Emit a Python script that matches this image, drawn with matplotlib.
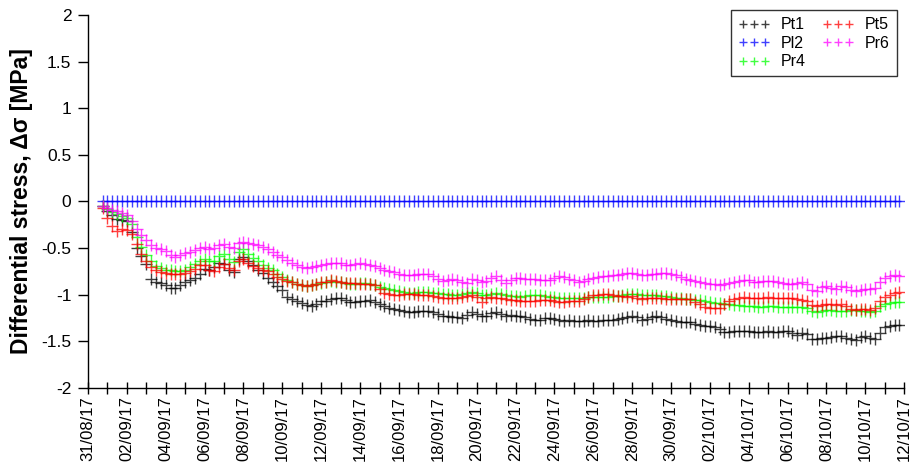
import numpy as np
import pandas as pd
import matplotlib
matplotlib.use("Agg")
import matplotlib.pyplot as plt
import matplotlib.dates as mdates

plt.rcParams["font.family"] = ["Liberation Sans", "DejaVu Sans"]

# readings every 6 h, starting 31/08/17 18:00
START = pd.Timestamp("2017-08-31 18:00")

PT1 = [
    -0.05, -0.10, -0.15, -0.19, -0.20, -0.21, -0.33, -0.50, -0.58, -0.67,
    -0.83, -0.86, -0.87, -0.90, -0.93, -0.93, -0.90, -0.86, -0.84, -0.82,
    -0.78, -0.72, -0.74, -0.70, -0.66, -0.67, -0.74, -0.76, -0.62, -0.59,
    -0.64, -0.68, -0.73, -0.77, -0.82, -0.86, -0.91, -0.95, -1.02, -1.05,
    -1.07, -1.09, -1.11, -1.12, -1.10, -1.07, -1.07, -1.05, -1.03, -1.04,
    -1.06, -1.08, -1.08, -1.07, -1.07, -1.06, -1.08, -1.10, -1.12, -1.14,
    -1.15, -1.16, -1.17, -1.18, -1.18, -1.17, -1.17, -1.17, -1.19, -1.21,
    -1.23, -1.23, -1.24, -1.24, -1.25, -1.22, -1.19, -1.21, -1.23, -1.23,
    -1.20, -1.18, -1.21, -1.23, -1.22, -1.23, -1.23, -1.24, -1.26, -1.27,
    -1.27, -1.25, -1.25, -1.26, -1.27, -1.28, -1.27, -1.28, -1.28, -1.28,
    -1.27, -1.28, -1.28, -1.27, -1.27, -1.27, -1.26, -1.25, -1.24, -1.23,
    -1.24, -1.27, -1.26, -1.24, -1.23, -1.24, -1.26, -1.27, -1.28, -1.29,
    -1.29, -1.29, -1.31, -1.32, -1.33, -1.34, -1.35, -1.37, -1.40, -1.40,
    -1.39, -1.39, -1.39, -1.39, -1.40, -1.40, -1.40, -1.39, -1.40, -1.40,
    -1.39, -1.39, -1.41, -1.43, -1.41, -1.42, -1.47, -1.47, -1.46, -1.46,
    -1.45, -1.44, -1.44, -1.46, -1.48, -1.49, -1.45, -1.44, -1.46, -1.47,
    -1.41, -1.35, -1.33, -1.32, -1.32,
]

PT5 = [
    -0.07, -0.18, -0.26, -0.32, -0.30, -0.31, -0.35, -0.46, -0.56, -0.64,
    -0.70, -0.74, -0.76, -0.77, -0.78, -0.78, -0.78, -0.77, -0.75, -0.72,
    -0.68, -0.68, -0.73, -0.75, -0.70, -0.67, -0.71, -0.73, -0.64, -0.62,
    -0.66, -0.69, -0.71, -0.73, -0.75, -0.78, -0.81, -0.83, -0.85, -0.86,
    -0.88, -0.90, -0.91, -0.90, -0.88, -0.86, -0.86, -0.84, -0.85, -0.86,
    -0.87, -0.87, -0.87, -0.88, -0.88, -0.89, -0.90, -0.94, -0.98, -0.99,
    -1.00, -1.00, -0.99, -0.99, -0.99, -1.00, -1.00, -1.00, -1.01, -1.02,
    -1.04, -1.04, -1.03, -1.03, -1.02, -1.01, -1.00, -1.02, -1.08, -1.04,
    -1.02, -1.03, -1.04, -1.05, -1.06, -1.06, -1.07, -1.07, -1.07, -1.07,
    -1.06, -1.06, -1.06, -1.07, -1.08, -1.08, -1.07, -1.07, -1.07, -1.05,
    -1.02, -1.00, -1.00, -0.99, -0.99, -1.00, -1.01, -1.01, -1.02, -1.01,
    -1.03, -1.05, -1.04, -1.03, -1.03, -1.04, -1.05, -1.05, -1.05, -1.05,
    -1.05, -1.05, -1.08, -1.10, -1.13, -1.14, -1.14, -1.14, -1.10, -1.07,
    -1.05, -1.03, -1.02, -1.03, -1.03, -1.04, -1.03, -1.02, -1.03, -1.03,
    -1.04, -1.04, -1.04, -1.05, -1.06, -1.07, -1.11, -1.12, -1.11, -1.10,
    -1.10, -1.11, -1.10, -1.12, -1.15, -1.16, -1.15, -1.15, -1.16, -1.14,
    -1.07, -1.02, -1.00, -0.98, -0.97,
]

PR4 = [
    -0.05, -0.08, -0.11, -0.13, -0.16, -0.18, -0.24, -0.38, -0.49, -0.57,
    -0.64, -0.69, -0.71, -0.73, -0.74, -0.75, -0.75, -0.73, -0.70, -0.67,
    -0.64, -0.62, -0.64, -0.64, -0.58, -0.56, -0.62, -0.65, -0.54, -0.51,
    -0.56, -0.61, -0.64, -0.68, -0.71, -0.74, -0.78, -0.81, -0.84, -0.86,
    -0.88, -0.90, -0.91, -0.90, -0.88, -0.87, -0.86, -0.85, -0.86, -0.86,
    -0.87, -0.88, -0.89, -0.87, -0.87, -0.89, -0.90, -0.92, -0.93, -0.94,
    -0.95, -0.96, -0.97, -0.98, -0.98, -0.97, -0.97, -0.97, -0.98, -0.98,
    -0.99, -0.99, -1.00, -1.00, -0.99, -0.98, -0.97, -0.98, -1.00, -1.00,
    -0.99, -0.98, -0.99, -1.00, -1.01, -1.01, -1.02, -1.01, -1.00, -1.00,
    -1.00, -1.01, -1.02, -1.02, -1.03, -1.03, -1.03, -1.04, -1.04, -1.03,
    -1.02, -1.02, -1.02, -1.02, -1.02, -1.01, -1.01, -1.00, -0.99, -0.99,
    -0.99, -1.00, -1.00, -1.00, -1.00, -1.01, -1.01, -1.02, -1.03, -1.04,
    -1.05, -1.05, -1.06, -1.06, -1.07, -1.08, -1.09, -1.09, -1.10, -1.10,
    -1.11, -1.11, -1.12, -1.12, -1.12, -1.13, -1.13, -1.12, -1.12, -1.13,
    -1.13, -1.13, -1.13, -1.13, -1.13, -1.14, -1.17, -1.18, -1.17, -1.16,
    -1.16, -1.17, -1.17, -1.17, -1.16, -1.16, -1.17, -1.17, -1.18, -1.17,
    -1.12, -1.10, -1.09, -1.08, -1.08,
]

PR6 = [
    -0.05, -0.07, -0.09, -0.10, -0.12, -0.15, -0.21, -0.30, -0.36, -0.41,
    -0.47, -0.50, -0.51, -0.53, -0.57, -0.59, -0.57, -0.55, -0.54, -0.52,
    -0.50, -0.49, -0.51, -0.50, -0.47, -0.46, -0.49, -0.50, -0.45, -0.43,
    -0.44, -0.46, -0.47, -0.49, -0.51, -0.54, -0.57, -0.59, -0.63, -0.66,
    -0.68, -0.70, -0.71, -0.70, -0.69, -0.68, -0.67, -0.66, -0.66, -0.66,
    -0.68, -0.68, -0.67, -0.66, -0.67, -0.68, -0.69, -0.71, -0.73, -0.75,
    -0.76, -0.78, -0.79, -0.79, -0.79, -0.78, -0.78, -0.78, -0.80, -0.83,
    -0.85, -0.84, -0.83, -0.84, -0.86, -0.87, -0.83, -0.84, -0.86, -0.85,
    -0.82, -0.80, -0.84, -0.87, -0.84, -0.82, -0.82, -0.83, -0.83, -0.83,
    -0.84, -0.84, -0.84, -0.82, -0.80, -0.81, -0.83, -0.84, -0.86, -0.85,
    -0.83, -0.82, -0.81, -0.80, -0.80, -0.79, -0.79, -0.78, -0.77, -0.77,
    -0.78, -0.79, -0.79, -0.78, -0.78, -0.77, -0.77, -0.78, -0.79, -0.81,
    -0.83, -0.84, -0.85, -0.86, -0.87, -0.88, -0.89, -0.90, -0.88, -0.87,
    -0.86, -0.85, -0.84, -0.84, -0.86, -0.86, -0.85, -0.85, -0.85, -0.86,
    -0.87, -0.88, -0.88, -0.87, -0.86, -0.89, -0.95, -0.96, -0.92, -0.91,
    -0.93, -0.94, -0.91, -0.92, -0.95, -0.96, -0.95, -0.94, -0.94, -0.93,
    -0.86, -0.82, -0.80, -0.79, -0.80,
]

PL2 = [0.0] * 165

SERIES = [
    ("Pt1", PT1, "black"),
    ("Pl2", PL2, "#0000ff"),
    ("Pr4", PR4, "#00ff00"),
    ("Pt5", PT5, "#ff0000"),
    ("Pr6", PR6, "#ff00ff"),
]

fig = plt.figure(figsize=(9.13, 4.70), dpi=100)
ax = fig.add_axes([0.0964, 0.1745, 0.894, 0.7936])

for name, vals, col in SERIES:
    t = START + pd.to_timedelta(np.arange(len(vals)) * 6, unit="h")
    ax.plot(t, vals, linestyle="none", marker="+", markersize=8,
            markeredgewidth=1.0, color=col, alpha=0.75, label=name)

ax.set_xlim(pd.Timestamp("2017-08-31"), pd.Timestamp("2017-10-12"))
ax.set_ylim(-2, 2)
ax.set_yticks(np.arange(-2, 2.01, 0.5))
ax.set_yticklabels(["-2", "-1.5", "-1", "-0.5", "0", "0.5", "1", "1.5", "2"])

ax.set_xticks(pd.date_range("2017-08-31", "2017-10-12", freq="2D"))
ax.set_xticks(pd.date_range("2017-08-31", "2017-10-12", freq="D"), minor=True)
ax.xaxis.set_major_formatter(mdates.DateFormatter("%d/%m/%y"))
ax.tick_params(axis="x", which="both", direction="inout", length=8,
               width=1, labelsize=12, rotation=90, pad=2)
ax.tick_params(axis="y", direction="out", length=7, width=1, labelsize=12.5,
               pad=5)

for s in ("top", "right"):
    ax.spines[s].set_visible(False)
for s in ("left", "bottom"):
    ax.spines[s].set_linewidth(1)

ax.set_ylabel("Differential stress, Δσ [MPa]", fontsize=16.5,
              fontweight="bold", labelpad=6)

leg = ax.legend(ncol=2, numpoints=3, loc="upper right", fontsize=11.5,
                bbox_to_anchor=(897 / 913, 1 - 10 / 470),
                bbox_transform=fig.transFigure, markerscale=0.8,
                frameon=True, fancybox=False, borderaxespad=0,
                columnspacing=1.0, handletextpad=0.7, labelspacing=0.22,
                handlelength=2.0, borderpad=0.45)
leg.get_frame().set_edgecolor("black")
leg.get_frame().set_linewidth(1)

fig.savefig("out.png", dpi=100)
